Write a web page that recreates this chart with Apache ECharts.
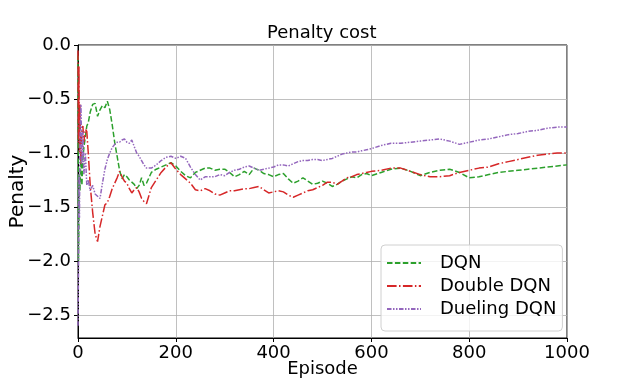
<!DOCTYPE html>
<html>
<head>
<meta charset="utf-8">
<script src="https://cdn.jsdelivr.net/npm/echarts@6/dist/echarts.min.js"></script>
<style>
  html, body { margin: 0; padding: 0; background: #fff; }
  #chart { width: 631px; height: 379px; }
</style>
</head>
<body>
<div id="chart"></div>
<script>
/* global echarts */
const episodes = [
    0, 1, 2, 3, 4, 6, 8, 10, 12, 15, 18, 21,
    25, 30, 35, 40, 45, 50, 55, 60, 65, 70, 75, 80, 85, 90, 95, 100, 105, 110, 115, 120, 125, 130, 135, 140,
    150, 160, 170, 180, 190, 200, 210, 220, 230, 240, 250, 260, 270, 280, 290, 300, 310, 320, 330, 340, 350,
    360, 370, 380, 390, 400, 410, 420, 430, 440, 450, 460, 470, 480, 490, 500, 510, 520, 530, 540, 550,
    560, 570, 580, 590, 600,
    620, 640, 660, 680, 700, 720, 740, 760, 780, 800, 820, 840, 860, 880, 900, 920, 940, 960, 980, 1000
];

const dqn = [
    -0.1, -2.0, -1.6, -1.2, -1.35, -1.0, -1.3, -1.05, -0.95, -0.85, -0.75, -0.72,
    -0.62, -0.55, -0.54, -0.66, -0.6, -0.56, -0.58, -0.52, -0.6, -0.74, -0.9, -1.03, -1.16, -1.24, -1.2, -1.22, -1.25, -1.27, -1.29, -1.33, -1.3, -1.23, -1.3, -1.28,
    -1.18, -1.15, -1.13, -1.11, -1.09, -1.12, -1.17, -1.21, -1.23, -1.18, -1.16, -1.14, -1.14, -1.16, -1.15, -1.15, -1.18, -1.22, -1.2, -1.17, -1.2,
    -1.14, -1.16, -1.19, -1.2, -1.22, -1.2, -1.19, -1.24, -1.28, -1.26, -1.23, -1.26, -1.29, -1.28, -1.26, -1.28, -1.31, -1.29, -1.26, -1.24,
    -1.22, -1.23, -1.2, -1.19, -1.21,
    -1.18, -1.15, -1.14, -1.17, -1.21, -1.18, -1.16, -1.15, -1.18, -1.23, -1.22, -1.2, -1.18, -1.17, -1.16, -1.15, -1.14, -1.13, -1.12, -1.11
];

const doubleDqn = [
    -0.05, -0.9, -0.2, -1.0, -0.55, -1.1, -0.8, -0.75, -0.9, -0.78, -0.8, -1.0,
    -1.3, -1.55, -1.75, -1.82, -1.68, -1.58, -1.48, -1.46, -1.4, -1.33, -1.28, -1.23, -1.17, -1.22, -1.26, -1.28, -1.33, -1.37, -1.34, -1.32, -1.36, -1.42, -1.45, -1.47,
    -1.32, -1.25, -1.18, -1.13, -1.09, -1.15, -1.2, -1.24, -1.28, -1.34, -1.35, -1.33, -1.35, -1.38, -1.39, -1.37, -1.35, -1.35, -1.34, -1.33, -1.33,
    -1.32, -1.31, -1.34, -1.37, -1.36, -1.35, -1.36, -1.39, -1.41, -1.39, -1.37, -1.35, -1.34, -1.32, -1.3, -1.27, -1.27, -1.29, -1.26, -1.23,
    -1.22, -1.2, -1.19, -1.18, -1.17,
    -1.16, -1.14, -1.14, -1.17, -1.2, -1.22, -1.22, -1.21, -1.18, -1.16, -1.14, -1.13, -1.1, -1.08, -1.06, -1.04, -1.02, -1.01, -1.0, -1.0
];

const duelingDqn = [
    -2.6, -2.1, -1.2, -1.6, -0.9, -0.55, -1.1, -0.8, -1.2, -1.0, -1.3, -1.25,
    -1.35, -1.3, -1.38, -1.4, -1.42, -1.28, -1.15, -1.06, -1.0, -0.95, -0.92, -0.9, -0.9, -0.88, -0.87, -0.9, -0.91, -0.88, -0.94, -1.0, -1.03, -1.07, -1.11, -1.14,
    -1.14, -1.11, -1.07, -1.04, -1.03, -1.05, -1.03, -1.05, -1.13, -1.2, -1.25, -1.22, -1.22, -1.22, -1.2, -1.21, -1.18, -1.16, -1.15, -1.13, -1.12,
    -1.14, -1.16, -1.15, -1.14, -1.13, -1.11, -1.11, -1.12, -1.1, -1.08, -1.07, -1.07, -1.06, -1.06, -1.07, -1.06, -1.05, -1.03, -1.01, -1.0,
    -0.99, -0.99, -0.98, -0.97, -0.96,
    -0.93, -0.91, -0.91, -0.9, -0.89, -0.88, -0.87, -0.89, -0.92, -0.9, -0.88, -0.87, -0.85, -0.83, -0.82, -0.8, -0.79, -0.77, -0.76, -0.76
];

const yTicks = [0, -0.5, -1.0, -1.5, -2.0, -2.5];
const seriesNames = ['DQN', 'Double DQN', 'Dueling DQN'];

const FONT = 'DejaVu Sans';

function pairs(values) {
    return episodes.map((ep, i) => [ep, values[i]]);
}

function make_series(name, values, color, dash) {
    return {
        name: name,
        type: 'line',
        data: pairs(values),
        showSymbol: false,
        symbol: 'none',
        animation: false,
        lineStyle: { color: color, width: 1.5, type: dash },
        itemStyle: { color: color }
    };
}

const chart = echarts.init(document.getElementById('chart'), null, { renderer: 'canvas' });
const option = {
    backgroundColor: '#fff',
    animation: false,
    textStyle: { fontFamily: FONT },
    title: {
        text: 'Penalty cost',
        left: 267,
        top: 24,
        padding: 0,
        textStyle: { fontFamily: FONT, fontSize: 18, fontWeight: 'normal', color: '#000' }
    },
    grid: {
        left: 78, right: 64, top: 45, bottom: 41,
        containLabel: false,
        outerBoundsMode: 'none',
        show: true, borderColor: '#000', borderWidth: 1, backgroundColor: 'transparent'
    },
    legend: {
        orient: 'vertical',
        left: 381,
        top: 245,
        width: 185,
        padding: [9, 6, 13, 5],
        itemGap: 5,
        itemWidth: 34,
        itemHeight: 14,
        itemStyle: { opacity: 0 },
        backgroundColor: 'rgba(255,255,255,0.8)',
        borderColor: '#d0d0d0',
        borderWidth: 1,
        borderRadius: 4,
        textStyle: { fontFamily: FONT, fontSize: 18, color: '#000', padding: [0, 0, 0, 14] },
        data: seriesNames
    },
    xAxis: {
        type: 'value',
        min: 0,
        max: 1000,
        interval: 200,
        name: 'Episode',
        nameLocation: 'middle',
        nameGap: 22,
        nameMoveOverlap: false,
        nameTextStyle: { fontFamily: FONT, fontSize: 18, color: '#000' },
        axisLine: { show: true, onZero: false, lineStyle: { color: '#000', width: 1 } },
        axisTick: { show: true, length: 4, lineStyle: { color: '#000' } },
        axisLabel: { fontFamily: FONT, fontSize: 18, color: '#000', margin: 6, formatter: v => String(v) },
        splitLine: { show: true, lineStyle: { color: '#b0b0b0', width: 0.8 } }
    },
    yAxis: {
        type: 'value',
        min: -2.713,
        max: 0,
        name: 'Penalty',
        nameLocation: 'middle',
        nameGap: 50,
        nameMoveOverlap: false,
        nameTextStyle: { fontFamily: FONT, fontSize: 20, color: '#000' },
        axisLine: { show: true, onZero: false, lineStyle: { color: '#000', width: 1 } },
        axisTick: { show: true, length: 4, customValues: yTicks, lineStyle: { color: '#000' } },
        axisLabel: {
            fontFamily: FONT, fontSize: 18, color: '#000', margin: 7,
            customValues: yTicks,
            formatter: v => v.toFixed(1).replace('-', '\u2212')
        },
        splitLine: { show: true, lineStyle: { color: '#b0b0b0', width: 0.8 } }
    },
    series: [
        make_series('DQN', dqn, '#2ca02c', [5.5, 2.4]),
        make_series('Double DQN', doubleDqn, '#d62728', [9.6, 2.4, 1.5, 2.4]),
        make_series('Dueling DQN', duelingDqn, '#9467bd', [4.5, 1.5, 1.5, 1.5, 1.5, 1.5])
    ]
};
chart.setOption(option);
</script>
</body>
</html>
